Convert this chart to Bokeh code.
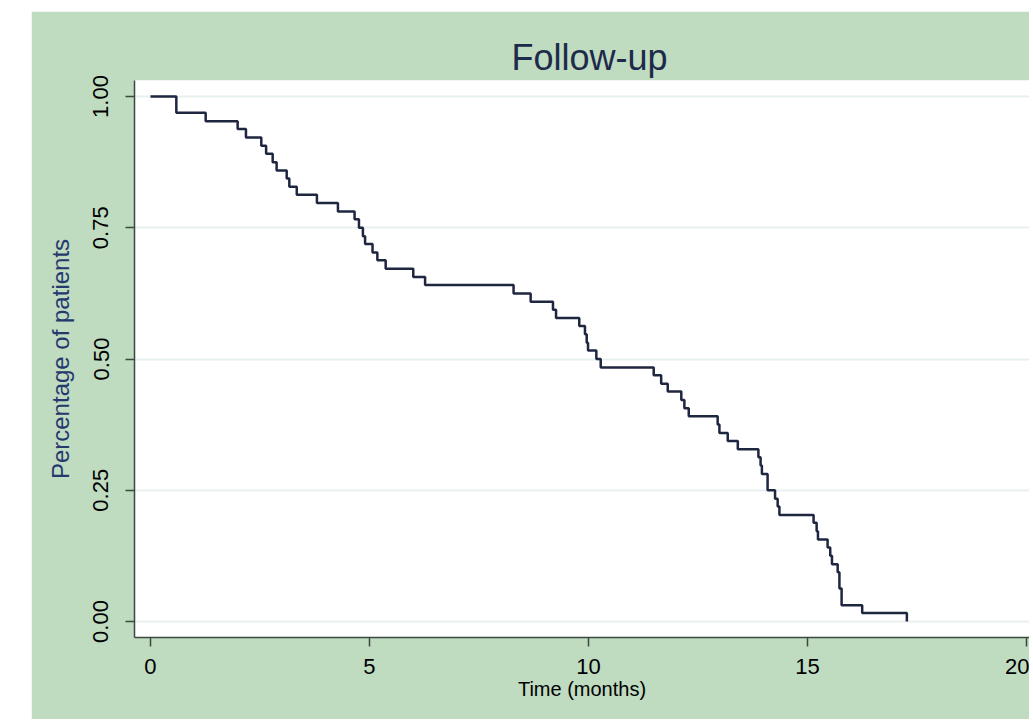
from bokeh.plotting import figure
from bokeh.models import FixedTicker, NumeralTickFormatter, Range1d, Spacer
from bokeh.layouts import column, row
from bokeh.embed import file_html
from bokeh.resources import INLINE

# Kaplan-Meier style follow-up curve
time_months = [0, 0.59, 1.26, 1.99, 2.18, 2.53, 2.64, 2.79, 2.88, 3.11, 3.17, 3.34,
               3.80, 4.28, 4.66, 4.76, 4.85, 4.90, 5.07, 5.18, 5.37, 6.00, 6.27,
               8.29, 8.68, 9.19, 9.26, 9.79, 9.92, 9.96, 9.99, 10.18, 10.28,
               11.49, 11.66, 11.81, 12.12, 12.19, 12.29, 12.95, 12.99, 13.18, 13.41,
               13.88, 13.93, 13.96, 14.09, 14.26, 14.32, 14.36, 15.14, 15.21, 15.24,
               15.46, 15.52, 15.56, 15.69, 15.73, 15.78, 16.25, 17.27]
pct_patients = [1.000, 0.969, 0.953, 0.938, 0.922, 0.906, 0.891, 0.875, 0.859, 0.844,
                0.828, 0.813, 0.797, 0.781, 0.766, 0.750, 0.734, 0.719, 0.703, 0.688,
                0.672, 0.656, 0.641, 0.625, 0.609, 0.594, 0.578, 0.563, 0.547, 0.531,
                0.516, 0.500, 0.484, 0.469, 0.453, 0.438, 0.422, 0.406, 0.391, 0.375,
                0.359, 0.344, 0.328, 0.313, 0.297, 0.281, 0.250, 0.234, 0.219, 0.203,
                0.188, 0.172, 0.156, 0.141, 0.125, 0.109, 0.094, 0.063, 0.031, 0.016,
                0.000]
x_ticks = [0, 5, 10, 15, 20]
y_ticks = [0, 0.25, 0.5, 0.75, 1.0]

GREEN = "#bfdbc0"
FONT = "Liberation Sans"

p = figure(width=998, height=708, output_backend="svg", toolbar_location=None,
           x_range=Range1d(-0.365, 20.07), y_range=Range1d(-0.0305, 1.0305),
           min_border_left=103, min_border_right=0, min_border_top=69,
           min_border_bottom=82, title="Follow-up")

p.background_fill_color = "white"
p.border_fill_color = GREEN
p.outline_line_color = None

p.title.text_font = FONT
p.title.text_font_size = "36px"
p.title.text_font_style = "normal"
p.title.text_color = "#1e2a4a"
p.title.align = "left"
p.title.offset = 377
p.title.standoff = 6

p.step(time_months, pct_patients, mode="after", line_color="#1f2640", line_width=2.5)

p.xgrid.grid_line_color = None
p.ygrid.grid_line_color = "#e8f0f0"
p.ygrid.grid_line_width = 2
p.ygrid.ticker = FixedTicker(ticks=y_ticks)

for ax in (p.xaxis[0], p.yaxis[0]):
    ax.axis_line_color = "#3a4a3e"
    ax.axis_line_width = 1.5
    ax.major_tick_line_color = "#3a4a3e"
    ax.major_tick_line_width = 1.5
    ax.major_tick_out = 9
    ax.major_tick_in = 0
    ax.minor_tick_line_color = None
    ax.major_label_text_font = FONT
    ax.major_label_text_font_size = "22px"
    ax.major_label_text_color = "black"
    ax.axis_label_text_font = FONT
    ax.axis_label_text_font_style = "normal"

p.xaxis.ticker = FixedTicker(ticks=x_ticks)
p.xaxis.axis_label = "Time (months)"
p.xaxis.axis_label_text_color = "black"
p.xaxis.axis_label_text_font_size = "20px"
p.xaxis.major_label_standoff = 12
p.xaxis.axis_label_standoff = 1

p.yaxis.ticker = FixedTicker(ticks=y_ticks)
p.yaxis.formatter = NumeralTickFormatter(format="0.00")
p.yaxis.major_label_orientation = "vertical"
p.yaxis.axis_label = "Percentage of patients"
p.yaxis.axis_label_text_color = "#26396e"
p.yaxis.axis_label_text_font_size = "24px"
p.yaxis.major_label_standoff = 17
p.yaxis.axis_label_standoff = 17

layout = column(Spacer(height=11), row(Spacer(width=31), p))

open("out.html", "w").write(file_html(layout, INLINE))
